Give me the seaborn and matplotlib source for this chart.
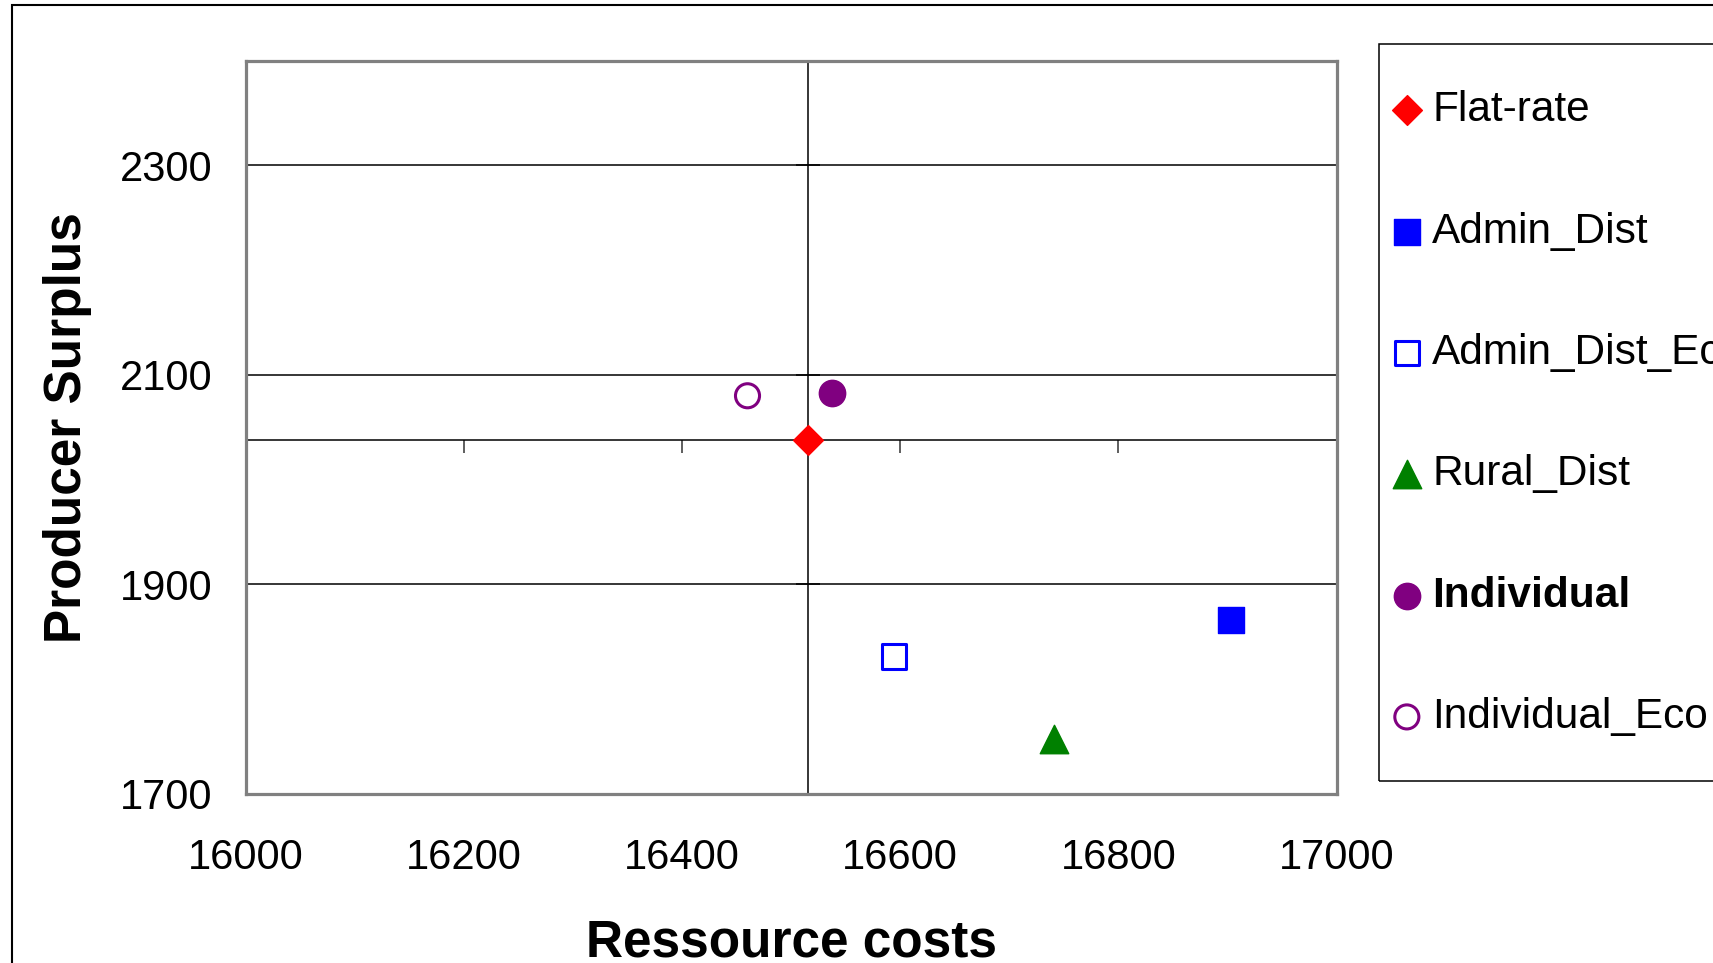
import matplotlib
matplotlib.use('Agg')
import matplotlib.pyplot as plt
import seaborn as sns
import pandas as pd
from matplotlib.patches import Rectangle

# values
categories = ['Flat-rate', 'Admin_Dist', 'Admin_Dist_Eco', 'Rural_Dist', 'Individual', 'Individual_Eco']
costs = [16515, 16903, 16594, 16741, 16537, 16460]
surplus = [2038, 1866, 1831, 1752, 2083, 2080]

colors = ['red', 'blue', 'blue', 'green', 'purple', 'purple']
markers = ['D', 's', 's', '^', 'o', 'o']
filled = [True, True, False, True, True, False]
sizes = [230, 330, 300, 420, 360, 300]

x_ticks = [16000, 16200, 16400, 16600, 16800, 17000]
y_ticks = [1700, 1900, 2100, 2300]

df = pd.DataFrame({'cat': categories, 'cost': costs, 'surplus': surplus})

sns.set_style('white')
plt.rcParams['font.family'] = ['Liberation Sans', 'DejaVu Sans']
plt.rcParams['text.color'] = 'black'
plt.rcParams['axes.labelcolor'] = 'black'
plt.rcParams['xtick.color'] = 'black'
plt.rcParams['ytick.color'] = 'black'

fig = plt.figure(figsize=(17.13, 9.63), dpi=100, facecolor='white')
pos = [0.1434, 0.1758, 0.6369, 0.7612]

# crossing axes at the flat-rate point (Excel style), drawn underneath
ax2 = fig.add_axes(pos)
ax = fig.add_axes(pos, sharex=ax2, sharey=ax2)
ax.patch.set_visible(False)

# gridlines
for yv in y_ticks[1:]:
    ax.axhline(yv, color='black', lw=1.1, zorder=1)

for i, cat in enumerate(categories):
    sub = df[df['cat'] == cat]
    fc = colors[i] if filled[i] else 'none'
    sns.scatterplot(data=sub, x='cost', y='surplus', marker=markers[i], s=sizes[i],
                    facecolor=fc, edgecolor=colors[i], linewidth=2.2 if not filled[i] else 1,
                    label=cat, ax=ax, zorder=5)

ax.set_xlim(16000, 17000)
ax.set_ylim(1700, 2400)
ax.set_xticks(x_ticks)
ax.set_yticks(y_ticks)
ax.tick_params(axis='x', length=0, pad=32, labelsize=30, labelcolor='black')
ax.tick_params(axis='y', length=0, pad=24, labelsize=30, labelcolor='black')
for sp in ax.spines.values():
    sp.set_color('#808080')
    sp.set_linewidth(2.3)
    sp.set_visible(True)

ax.set_xlabel('Ressource costs', fontsize=37, fontweight='bold', color='black')
ax.set_ylabel('Producer Surplus', fontsize=37, fontweight='bold', color='black')
ax.xaxis.set_label_coords(0.5, -0.170)
ax.yaxis.set_label_coords(-0.141, 0.5)

cross_x = costs[0]
cross_y = surplus[0]
ax2.set_facecolor('white')
ax2.spines['right'].set_visible(False)
ax2.spines['top'].set_visible(False)
ax2.spines['left'].set_position(('data', cross_x))
ax2.spines['bottom'].set_position(('data', cross_y))
for s in ['left', 'bottom']:
    ax2.spines[s].set_color('black')
    ax2.spines[s].set_linewidth(1.1)
    ax2.spines[s].set_visible(True)
ax2.tick_params(axis='x', bottom=True, direction='out', length=9.5, width=1.1,
                color='#333333', labelbottom=False)
ax2.tick_params(axis='y', left=True, direction='inout', length=17, width=1.1,
                color='black', labelleft=False)

# legend
handles, labels = ax.get_legend_handles_labels()
ax.get_legend().remove()
leg = fig.legend(handles, labels, loc='center left',
                 bbox_to_anchor=(0.8052, 0.5704), frameon=False,
                 fontsize=30.5, handlelength=0.7, handletextpad=0.25,
                 borderpad=0.3, borderaxespad=0, labelspacing=1.92)
for t in leg.get_texts():
    t.set_color('black')
leg.get_texts()[4].set_fontweight('bold')

fig.add_artist(Rectangle((0.8052, 0.1887), 0.3, 0.7653, transform=fig.transFigure,
                         fill=False, edgecolor='black', lw=1.1))
# outer chart border
fig.add_artist(Rectangle((0.0070, -0.1), 1.2, 1.0945, transform=fig.transFigure,
                         fill=False, edgecolor='black', lw=1.5))

fig.savefig('out.png', dpi=100)
